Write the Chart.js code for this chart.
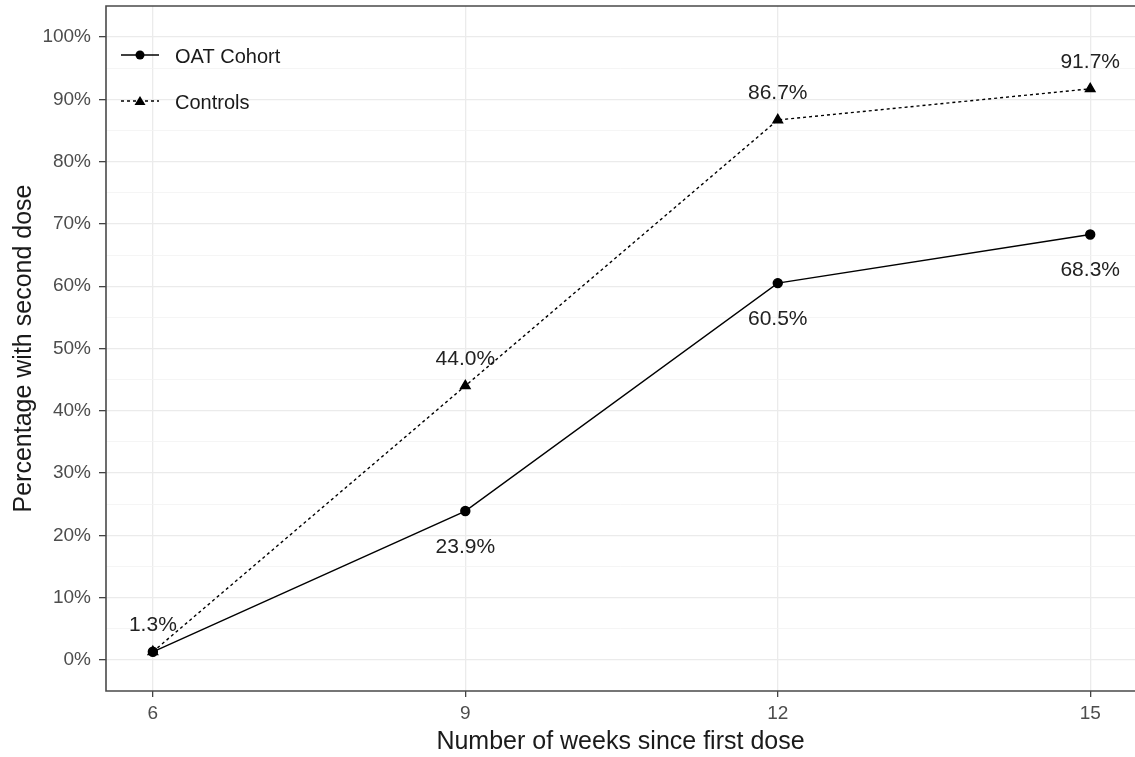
<!DOCTYPE html>
<html>
<head>
<meta charset="utf-8">
<script src="https://cdn.jsdelivr.net/npm/chart.js@4"></script>
<style>
  body { margin: 0; background: #fff; }
  #wrap { width: 1135px; height: 757px; }
</style>
</head>
<body>
<div id="wrap"><canvas id="myChart" width="1135" height="757"></canvas></div>
<script>
// data
var weeks = [6, 9, 12, 15];
var oatCohort = [1.3, 23.9, 60.5, 68.3];
var controls = [1.3, 44.0, 86.7, 91.7];
var xTicks = [6, 9, 12, 15];
var yTicks = [0, 10, 20, 30, 40, 50, 60, 70, 80, 90, 100];
var yMinor = [5, 15, 25, 35, 45, 55, 65, 75, 85, 95];

var FONT = "'Liberation Sans', Arial, sans-serif";

function toPoints(values) {
  return weeks.map(function (w, i) { return { x: w, y: values[i] }; });
}

// value labels: controls above the point, OAT below (none for OAT at week 6)
var valueLabels = {
  id: 'valueLabels',
  afterDatasetsDraw: function (chart) {
    var ctx = chart.ctx;
    ctx.save();
    ctx.font = '21px ' + FONT;
    ctx.fillStyle = '#222';
    ctx.textAlign = 'center';
    ctx.textBaseline = 'middle';
    chart.data.datasets.forEach(function (ds, di) {
      var meta = chart.getDatasetMeta(di);
      meta.data.forEach(function (pt, i) {
        if (di === 0 && i === 0) return;
        var off = di === 0 ? 36 : -27;
        ctx.fillText(ds.data[i].y.toFixed(1) + '%', pt.x, pt.y + off);
      });
    });
    ctx.restore();
  }
};

// panel border (top, left, bottom) like the ggplot frame
var frame = {
  id: 'frame',
  afterDraw: function (chart) {
    var a = chart.chartArea, ctx = chart.ctx;
    ctx.save();
    ctx.strokeStyle = '#4a4a4a';
    ctx.lineWidth = 1.6;
    ctx.beginPath();
    ctx.moveTo(a.right + 2, a.top);
    ctx.lineTo(a.left, a.top);
    ctx.lineTo(a.left, a.bottom);
    ctx.lineTo(a.right + 2, a.bottom);
    ctx.stroke();
    ctx.restore();
  }
};

// legend inside the panel: line + marker, then the name
var insideLegend = {
  id: 'insideLegend',
  afterDraw: function (chart) {
    var ctx = chart.ctx;
    var rows = [
      { label: 'OAT Cohort', y: 55, dash: [], shape: 'circle' },
      { label: 'Controls', y: 101, dash: [3, 3], shape: 'triangle' }
    ];
    ctx.save();
    rows.forEach(function (r) {
      ctx.strokeStyle = '#000';
      ctx.lineWidth = 1.4;
      ctx.setLineDash(r.dash);
      ctx.beginPath();
      ctx.moveTo(121, r.y);
      ctx.lineTo(159, r.y);
      ctx.stroke();
      ctx.setLineDash([]);
      ctx.fillStyle = '#000';
      ctx.beginPath();
      if (r.shape === 'circle') {
        ctx.arc(140, r.y, 4.5, 0, Math.PI * 2);
      } else {
        ctx.moveTo(140, r.y - 5);
        ctx.lineTo(145.5, r.y + 4);
        ctx.lineTo(134.5, r.y + 4);
        ctx.closePath();
      }
      ctx.fill();
      ctx.font = '20px ' + FONT;
      ctx.fillStyle = '#1a1a1a';
      ctx.textAlign = 'left';
      ctx.textBaseline = 'middle';
      ctx.fillText(r.label, 175, r.y + 2);
    });
    ctx.restore();
  }
};

new Chart(document.getElementById('myChart').getContext('2d'), {
  type: 'line',
  data: {
    datasets: [
      {
        label: 'OAT Cohort',
        data: toPoints(oatCohort),
        borderColor: '#000',
        backgroundColor: '#000',
        borderWidth: 1.4,
        pointStyle: 'circle',
        pointRadius: 4.5,
        pointHoverRadius: 4.5,
        tension: 0
      },
      {
        label: 'Controls',
        data: toPoints(controls),
        borderColor: '#000',
        backgroundColor: '#000',
        borderWidth: 1.4,
        borderDash: [3, 3],
        pointStyle: 'triangle',
        pointRadius: 5.5,
        pointHoverRadius: 5.5,
        tension: 0
      }
    ]
  },
  options: {
    responsive: false,
    animation: false,
    layout: { autoPadding: false, padding: { top: 6, right: 0, left: 0, bottom: 0 } },
    plugins: {
      legend: { display: false },
      tooltip: { enabled: false }
    },
    scales: {
      x: {
        type: 'linear',
        min: 5.55,
        max: 15.43,
        afterBuildTicks: function (s) {
          s.ticks = xTicks.map(function (v) { return { value: v }; });
        },
        afterFit: function (s) {
          s.height = 66;
          s.paddingLeft = 0;
          s.paddingRight = 0;
        },
        border: { display: false },
        grid: { color: '#ebebeb', lineWidth: 1.3, tickLength: 6, tickColor: '#444' },
        ticks: {
          autoSkip: false,
          maxRotation: 0,
          color: '#4d4d4d',
          font: { family: FONT, size: 19 },
          padding: 5
        },
        title: {
          display: true,
          text: 'Number of weeks since first dose',
          color: '#1a1a1a',
          font: { family: FONT, size: 25 },
          padding: { top: 0, bottom: 0 }
        }
      },
      y: {
        min: -5,
        max: 105,
        afterBuildTicks: function (s) {
          s.ticks = yTicks.concat(yMinor).sort(function (a, b) { return a - b; })
            .map(function (v) { return { value: v }; });
        },
        afterFit: function (s) {
          s.width = 106;
          s.paddingTop = 0;
          s.paddingBottom = 0;
        },
        border: { display: false },
        grid: {
          color: function (c) { return c.tick && c.tick.value % 10 === 0 ? '#ebebeb' : '#f3f3f3'; },
          lineWidth: function (c) { return c.tick && c.tick.value % 10 === 0 ? 1.3 : 0.8; },
          tickLength: 7,
          tickColor: function (c) { return c.tick && c.tick.value % 10 === 0 ? '#444' : 'rgba(0,0,0,0)'; }
        },
        ticks: {
          autoSkip: false,
          color: '#4d4d4d',
          font: { family: FONT, size: 19 },
          padding: 8,
          callback: function (v) { return yTicks.indexOf(v) >= 0 ? v + '%' : ''; }
        },
        title: {
          display: true,
          text: 'Percentage with second dose',
          color: '#1a1a1a',
          font: { family: FONT, size: 25 },
          padding: { top: 9, bottom: 0 }
        }
      }
    }
  },
  plugins: [valueLabels, frame, insideLegend]
});
</script>
</body>
</html>
